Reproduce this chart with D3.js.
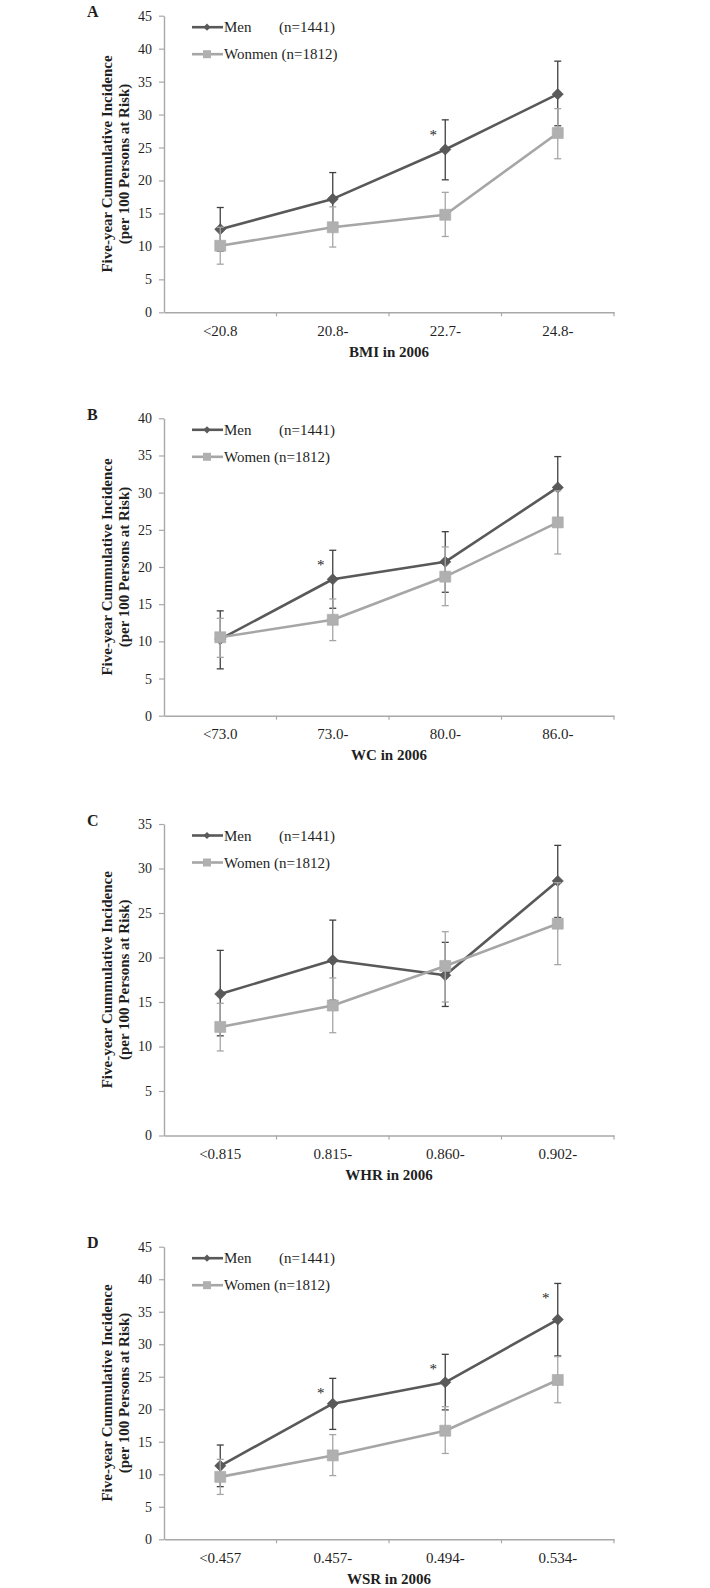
<!DOCTYPE html>
<html><head><meta charset="utf-8">
<script src="https://cdn.jsdelivr.net/npm/d3@7"></script>
<style>
body{margin:0;background:#fff}
svg{display:block}
text{font-family:"Liberation Serif","Times New Roman",serif;fill:#1f1f1f}
</style>
</head><body>
<svg id="chart" width="710" height="1588"></svg>
<script>
// ---------- DATA ----------
const menLabel = "Men";
const menN = "(n=1441)";

// Panel A — BMI
const catsA = ["<20.8", "20.8-", "22.7-", "24.8-"];
const menA = [12.6, 17.2, 24.7, 33.1];
const menLoA = [9.3, 13.3, 20.1, 28.3];
const menHiA = [15.9, 21.2, 29.2, 38.1];
const womenA = [10.1, 12.9, 14.8, 27.2];
const womenLoA = [7.3, 9.9, 11.5, 23.3];
const womenHiA = [12.9, 16.0, 18.2, 30.9];
const sigA = [false, false, true, false];
const ticksA = [0, 5, 10, 15, 20, 25, 30, 35, 40, 45];
const titleA = "BMI in 2006";
const womenLabelA = "Wonmen (n=1812)";

// Panel B — WC
const catsB = ["<73.0", "73.0-", "80.0-", "86.0-"];
const menB = [10.3, 18.35, 20.7, 30.7];
const menLoB = [6.3, 14.45, 16.6, 26.55];
const menHiB = [14.1, 22.25, 24.75, 34.85];
const womenB = [10.55, 12.9, 18.7, 26.0];
const womenLoB = [7.85, 10.1, 14.8, 21.75];
const womenHiB = [13.1, 15.7, 22.7, 30.25];
const sigB = [false, true, false, false];
const ticksB = [0, 5, 10, 15, 20, 25, 30, 35, 40];
const titleB = "WC in 2006";
const womenLabelB = "Women (n=1812)";

// Panel C — WHR
const catsC = ["<0.815", "0.815-", "0.860-", "0.902-"];
const menC = [15.9, 19.7, 18.0, 28.6];
const menLoC = [11.2, 15.2, 14.5, 24.5];
const menHiC = [20.8, 24.2, 21.7, 32.6];
const womenC = [12.2, 14.6, 19.05, 23.8];
const womenLoC = [9.5, 11.55, 15.0, 19.2];
const womenHiC = [14.85, 17.7, 22.9, 28.4];
const sigC = [false, false, false, false];
const ticksC = [0, 5, 10, 15, 20, 25, 30, 35];
const titleC = "WHR in 2006";
const womenLabelC = "Women (n=1812)";

// Panel D — WSR
const catsD = ["<0.457", "0.457-", "0.494-", "0.534-"];
const menD = [11.3, 20.85, 24.15, 33.8];
const menLoD = [8.1, 16.9, 19.9, 28.2];
const menHiD = [14.5, 24.75, 28.45, 39.35];
const womenD = [9.6, 12.9, 16.7, 24.5];
const womenLoD = [6.9, 9.8, 13.2, 21.0];
const womenHiD = [12.3, 16.1, 20.4, 28.1];
const sigD = [false, true, true, true];
const ticksD = [0, 5, 10, 15, 20, 25, 30, 35, 40, 45];
const titleD = "WSR in 2006";
const womenLabelD = "Women (n=1812)";

const yTitle1 = "Five-year Cummulative Incidence";
const yTitle2 = "(per 100 Persons at Risk)";

// ---------- LAYOUT ----------
const layout = [
  {letter: "A", top: 15.7, bottom: 312.3},
  {letter: "B", top: 418.3, bottom: 715.7},
  {letter: "C", top: 824, bottom: 1135.5},
  {letter: "D", top: 1246.7, bottom: 1539.3}
];
const panels = [
  {cats: catsA, men: menA, menLo: menLoA, menHi: menHiA, women: womenA, womenLo: womenLoA, womenHi: womenHiA, sig: sigA, ticks: ticksA, title: titleA, womenLabel: womenLabelA},
  {cats: catsB, men: menB, menLo: menLoB, menHi: menHiB, women: womenB, womenLo: womenLoB, womenHi: womenHiB, sig: sigB, ticks: ticksB, title: titleB, womenLabel: womenLabelB},
  {cats: catsC, men: menC, menLo: menLoC, menHi: menHiC, women: womenC, womenLo: womenLoC, womenHi: womenHiC, sig: sigC, ticks: ticksC, title: titleC, womenLabel: womenLabelC},
  {cats: catsD, men: menD, menLo: menLoD, menHi: menHiD, women: womenD, womenLo: womenLoD, womenHi: womenHiD, sig: sigD, ticks: ticksD, title: titleD, womenLabel: womenLabelD}
].map((p, i) => Object.assign(p, layout[i]));

const X0 = 164, X1 = 614;
const AXIS = "#a8a8a8";
const MEN_LINE = "#595959", MEN_MARK = "#5a5a5a", MEN_ERR = "#404040";
const WOM_LINE = "#a6a6a6", WOM_MARK = "#b0b0b0", WOM_ERR = "#a6a6a6";

const svg = d3.select("#chart");

panels.forEach(p => {
  const g = svg.append("g");
  const x = d3.scaleBand().domain(p.cats).range([X0, X1]).padding(0);
  const yMax = d3.max(p.ticks);
  const y = d3.scaleLinear().domain([0, yMax]).range([p.bottom, p.top]);
  const cx = c => x(c) + x.bandwidth() / 2;

  // Y axis
  const ya = g.append("g").attr("transform", `translate(${X0},0)`)
    .call(d3.axisLeft(y).tickValues(p.ticks).tickSize(5).tickPadding(7).tickSizeOuter(0));
  ya.select(".domain").attr("stroke", AXIS).attr("stroke-width", 1.4);
  ya.selectAll(".tick line").attr("stroke", AXIS).attr("stroke-width", 1.2);
  ya.selectAll(".tick text").attr("font-size", 14).attr("fill", "#1f1f1f")
    .attr("font-family", "Liberation Serif, Times New Roman, serif");

  // X axis
  const xa = g.append("g").attr("transform", `translate(0,${p.bottom})`)
    .call(d3.axisBottom(x).tickSize(0).tickPadding(13).tickSizeOuter(0));
  xa.select(".domain").attr("stroke", AXIS).attr("stroke-width", 1.4);
  xa.selectAll(".tick text").attr("font-size", 15).attr("fill", "#1f1f1f")
    .attr("font-family", "Liberation Serif, Times New Roman, serif");
  const bounds = p.cats.map(c => x(c) + x.bandwidth());
  g.selectAll(".btick").data(bounds).join("line")
    .attr("x1", d => d).attr("x2", d => d)
    .attr("y1", p.bottom).attr("y2", p.bottom + 4)
    .attr("stroke", AXIS).attr("stroke-width", 1.2);

  // Axis title
  g.append("text").attr("x", (X0 + X1) / 2).attr("y", p.bottom + 44.5)
    .attr("text-anchor", "middle").attr("font-size", 15).attr("font-weight", "bold")
    .text(p.title);

  // Y title
  const ym = (p.top + p.bottom) / 2;
  g.append("text").attr("transform", `translate(107,${ym}) rotate(-90)`)
    .attr("text-anchor", "middle").attr("dominant-baseline", "central")
    .attr("font-size", 15).attr("font-weight", "bold").text(yTitle1);
  g.append("text").attr("transform", `translate(124,${ym}) rotate(-90)`)
    .attr("text-anchor", "middle").attr("dominant-baseline", "central")
    .attr("font-size", 15).attr("font-weight", "bold").text(yTitle2);

  // Panel letter
  g.append("text").attr("x", 87).attr("y", p.top + 1.5)
    .attr("font-size", 16).attr("font-weight", "bold").text(p.letter);

  const line = d3.line().x(d => cx(d.c)).y(d => y(d.v));

  function drawSeries(vals, lo, hi, lineColor, errColor, markColor, shape) {
    const data = p.cats.map((c, i) => ({c, v: vals[i], lo: lo[i], hi: hi[i]}));
    g.append("path").datum(data).attr("d", line)
      .attr("fill", "none").attr("stroke", lineColor).attr("stroke-width", 2.6)
      .attr("stroke-linejoin", "round");
    const eb = g.append("g");
    data.forEach(d => {
      const xx = cx(d.c);
      eb.append("line").attr("x1", xx).attr("x2", xx).attr("y1", y(d.lo)).attr("y2", y(d.hi))
        .attr("stroke", errColor).attr("stroke-width", 1.3);
      [d.lo, d.hi].forEach(v => {
        eb.append("line").attr("x1", xx - 3.5).attr("x2", xx + 3.5).attr("y1", y(v)).attr("y2", y(v))
          .attr("stroke", errColor).attr("stroke-width", 1.3);
      });
    });
    if (shape === "diamond") {
      g.selectAll(null).data(data).join("path")
        .attr("d", d3.symbol(d3.symbolSquare, 62)())
        .attr("transform", d => `translate(${cx(d.c)},${y(d.v)}) rotate(45)`)
        .attr("fill", markColor).attr("stroke", "#4a4a4a").attr("stroke-width", 0.6);
    } else {
      g.selectAll(null).data(data).join("path")
        .attr("d", d3.symbol(d3.symbolSquare, 121)())
        .attr("transform", d => `translate(${cx(d.c)},${y(d.v)})`)
        .attr("fill", markColor).attr("stroke", "#a8a8a8").attr("stroke-width", 0.6);
    }
  }

  drawSeries(p.men, p.menLo, p.menHi, MEN_LINE, MEN_ERR, MEN_MARK, "diamond");
  drawSeries(p.women, p.womenLo, p.womenHi, WOM_LINE, WOM_ERR, WOM_MARK, "square");

  // Significance asterisks
  p.cats.forEach((c, i) => {
    if (!p.sig[i]) return;
    g.append("text").attr("x", cx(c) - 12).attr("y", y(p.menHi[i]) + 20)
      .attr("text-anchor", "middle").attr("font-size", 15).text("*");
  });

  // Legend
  const r1 = p.top + 11.5, r2 = p.top + 38.5;
  const lx0 = 192, lx1 = 223, lm = 207;
  g.append("line").attr("x1", lx0).attr("x2", lx1).attr("y1", r1).attr("y2", r1)
    .attr("stroke", MEN_LINE).attr("stroke-width", 2.6);
  g.append("path").attr("d", d3.symbol(d3.symbolSquare, 26)())
    .attr("transform", `translate(${lm},${r1}) rotate(45)`).attr("fill", MEN_MARK);
  g.append("text").attr("x", lx1 + 1).attr("y", r1).attr("dominant-baseline", "central")
    .attr("font-size", 15).text(menLabel);
  g.append("text").attr("x", 279).attr("y", r1).attr("dominant-baseline", "central")
    .attr("font-size", 15).text(menN);

  g.append("line").attr("x1", lx0).attr("x2", lx1).attr("y1", r2).attr("y2", r2)
    .attr("stroke", WOM_LINE).attr("stroke-width", 2.6);
  g.append("path").attr("d", d3.symbol(d3.symbolSquare, 64)())
    .attr("transform", `translate(${lm},${r2})`).attr("fill", WOM_MARK);
  g.append("text").attr("x", lx1 + 1).attr("y", r2).attr("dominant-baseline", "central")
    .attr("font-size", 15).text(p.womenLabel);
});
</script>
</body></html>
